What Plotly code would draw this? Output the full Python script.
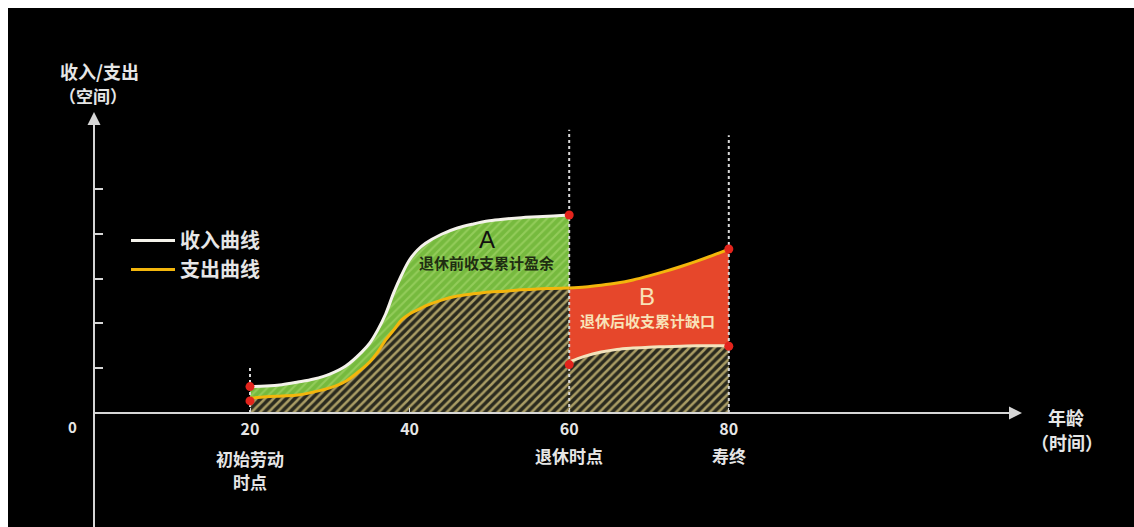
import plotly.graph_objects as go

W, H = 1134, 527

# ---- data (y in tick units) ----
ages_pre = [20, 22, 24, 26, 28, 30, 32, 34, 35, 36, 37, 38, 39, 40, 41, 42, 44, 46, 48, 50, 52, 54, 56, 58, 60]
income_pre = [0.59, 0.60, 0.63, 0.69, 0.76, 0.87, 1.05, 1.36, 1.56, 1.85, 2.21, 2.68, 3.08, 3.42, 3.64, 3.79,
              3.99, 4.13, 4.22, 4.29, 4.33, 4.36, 4.38, 4.40, 4.42]
expense_pre = [0.33, 0.36, 0.38, 0.40, 0.47, 0.56, 0.71, 0.98, 1.14, 1.36, 1.63, 1.85, 2.08, 2.21, 2.30, 2.39,
               2.52, 2.61, 2.66, 2.70, 2.72, 2.75, 2.77, 2.78, 2.79]
ages_post = [60, 62, 64, 66, 68, 70, 72, 74, 76, 78, 80]
expense_post = [2.79, 2.81, 2.85, 2.90, 2.97, 3.06, 3.16, 3.27, 3.39, 3.52, 3.66]
pension_post = [1.14, 1.27, 1.36, 1.42, 1.45, 1.47, 1.48, 1.49, 1.50, 1.50, 1.50]

dot_x = [20, 20, 60, 60, 80, 80]
dot_y = [0.59, 0.27, 4.42, 1.08, 3.66, 1.49]

guide_x = [20, 60, 80]
guide_top = [1.07, 6.32, 6.20]

x_ticks = [20, 40, 60, 80]
x_ticktext = ["20", "40", "60", "80"]
# (tick value, text, pixel row of text centre)
x_sublabels = [(20, "初始劳动", 458), (20, "时点", 482), (60, "退休时点", 455), (80, "寿终", 455)]
y_ticks = [1, 2, 3, 4, 5]

FONT = "Noto Sans CJK SC, Noto Sans, sans-serif"
TXT = "#e6e6e6"
HATCH = dict(shape="/", fgcolor="#a99c64", bgcolor="#2a2a1e", size=6, solidity=0.42, fillmode="replace")
GREEN = dict(shape="/", fgcolor="#93cc5a", bgcolor="#76ba3e", size=6, solidity=0.35, fillmode="replace")
RED = "#e6472b"
ORANGE = "#f3b60c"
WHITE = "#f4f2ea"
CREAM = "#f3e3bc"

def px(x):
    return x / W

def py(y):
    return 1 - y / H

fig = go.Figure()

# hatched area under expenses (pre-retirement)
fig.add_trace(go.Scatter(x=ages_pre, y=expense_pre, mode="lines", line=dict(width=0, shape="spline"),
                         fill="tozeroy", fillpattern=HATCH, fillcolor="#2a2a1e", showlegend=False, hoverinfo="skip"))
# green surplus A
fig.add_trace(go.Scatter(x=ages_pre, y=income_pre, mode="lines", line=dict(width=0, shape="spline"),
                         fill="tonexty", fillpattern=GREEN, fillcolor="#76ba3e", showlegend=False, hoverinfo="skip"))
# hatched area under pension (post-retirement)
fig.add_trace(go.Scatter(x=ages_post, y=pension_post, mode="lines", line=dict(width=0, shape="spline"),
                         fill="tozeroy", fillpattern=HATCH, fillcolor="#2a2a1e", showlegend=False, hoverinfo="skip"))
# red gap B
fig.add_trace(go.Scatter(x=ages_post, y=expense_post, mode="lines", line=dict(width=0, shape="spline"),
                         fill="tonexty", fillcolor=RED, showlegend=False, hoverinfo="skip"))

# dotted guide lines
for gx, gt in zip(guide_x, guide_top):
    fig.add_trace(go.Scatter(x=[gx, gx], y=[0, gt], mode="lines",
                             line=dict(color="#d8d8d8", width=2, dash="dot"), showlegend=False, hoverinfo="skip"))

# curves
fig.add_trace(go.Scatter(x=ages_pre, y=income_pre, mode="lines", name="收入曲线", legendgroup="inc",
                         line=dict(color=WHITE, width=3, shape="spline")))
fig.add_trace(go.Scatter(x=ages_pre, y=expense_pre, mode="lines", name="支出曲线", legendgroup="exp",
                         line=dict(color=ORANGE, width=3, shape="spline")))
fig.add_trace(go.Scatter(x=ages_post, y=pension_post, mode="lines", legendgroup="inc", showlegend=False,
                         line=dict(color=CREAM, width=3, shape="spline")))
fig.add_trace(go.Scatter(x=ages_post, y=expense_post, mode="lines", legendgroup="exp", showlegend=False,
                         line=dict(color=ORANGE, width=3, shape="spline")))

# red end points
fig.add_trace(go.Scatter(x=dot_x, y=dot_y, mode="markers", marker=dict(color="#e3241c", size=9),
                         showlegend=False, hoverinfo="skip"))

x_l, x_r = 94, 1012
y_top = 120
age_at = lambda p: 20 + (p - 250) / 7.98
val_at = lambda p: (413 - p) / 44.8

fig.update_layout(
    width=W, height=H,
    margin=dict(l=0, r=0, t=0, b=0, autoexpand=False),
    paper_bgcolor="white", plot_bgcolor="rgba(0,0,0,0)",
    font=dict(family=FONT, color=TXT),
    showlegend=True,
    legend=dict(x=px(126), y=py(221), xanchor="left", yanchor="top", bgcolor="rgba(0,0,0,0)",
                font=dict(size=20, color=TXT, family=FONT, weight="bold"), itemwidth=44, tracegroupgap=0),
    xaxis=dict(domain=[px(x_l), px(x_r)], range=[age_at(x_l), age_at(x_r)], anchor="free", position=py(413),
               showgrid=False, zeroline=False, showline=True, linecolor="#d6d6d6", linewidth=2,
               tickvals=x_ticks, ticktext=x_ticktext, ticks="inside", ticklen=4, tickcolor="#d6d6d6",
               ticklabelstandoff=2,
               tickfont=dict(size=16, color=TXT, family=FONT, weight="bold")),
    yaxis=dict(domain=[0, py(y_top)], range=[val_at(H), val_at(y_top)], anchor="free", position=px(x_l),
               showgrid=False, zeroline=False, showline=True, linecolor="#d6d6d6", linewidth=2,
               tickvals=y_ticks, ticks="inside", ticklen=8, tickwidth=2, tickcolor="#d6d6d6",
               showticklabels=False),
    shapes=[dict(type="rect", xref="paper", yref="paper", x0=px(8), x1=1, y0=0, y1=py(8),
                 fillcolor="black", line=dict(width=0), layer="below")],
)

ann = []
# axis arrows
ann.append(dict(xref="paper", yref="paper", x=px(1022), y=py(413), ax=-24, ay=0, text="", showarrow=True,
                arrowhead=2, arrowsize=1.3, arrowwidth=2, arrowcolor="#d6d6d6"))
ann.append(dict(xref="paper", yref="paper", x=px(94), y=py(112), ax=0, ay=24, text="", showarrow=True,
                arrowhead=2, arrowsize=1.3, arrowwidth=2, arrowcolor="#d6d6d6"))
# axis titles
for t, x, y, s in [("收入/支出", 99, 71, 18), ("（空间）", 93, 95, 17), ("年龄", 1066, 417, 18),
                   ("（时间）", 1067, 442, 18), ("0", 72, 426, 15)]:
    ann.append(dict(xref="paper", yref="paper", x=px(x), y=py(y), text=t, showarrow=False,
                    xanchor="center", yanchor="middle", font=dict(size=s, color=TXT, family=FONT, weight="bold")))
# sub labels under ticks
for tv, sl, row in x_sublabels:
    ann.append(dict(x=tv, yref="paper", y=py(row), text=sl, showarrow=False, xanchor="center", yanchor="middle",
                    font=dict(size=17, color=TXT, family=FONT, weight="bold")))
# region labels
ann.append(dict(x=age_at(487), y=val_at(239), text="A", showarrow=False,
                font=dict(size=24, color="#111111", family="Liberation Sans, Arial")))
ann.append(dict(x=age_at(486), y=val_at(262), text="退休前收支累计盈余", showarrow=False,
                font=dict(size=15, color="#1f2e12", family=FONT, weight="bold")))
ann.append(dict(x=age_at(647), y=val_at(296), text="B", showarrow=False,
                font=dict(size=24, color="#f8e2b8", family="Liberation Sans, Arial")))
ann.append(dict(x=age_at(647), y=val_at(320), text="退休后收支累计缺口", showarrow=False,
                font=dict(size=15, color="#f8e2b8", family=FONT, weight="bold")))
fig.update_layout(annotations=ann)

fig.write_html("out.html")
